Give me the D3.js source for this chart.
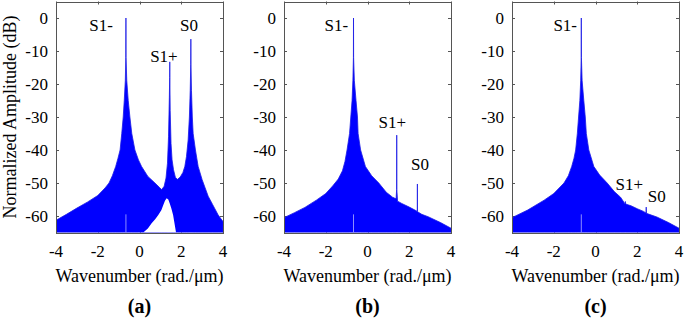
<!DOCTYPE html>
<html>
<head>
<meta charset="utf-8">
<script src="https://cdn.jsdelivr.net/npm/d3@7"></script>
<style>
  html, body { margin: 0; padding: 0; background: #fff; }
  svg { display: block; font-family: "Liberation Serif", "Times New Roman", serif; }
</style>
</head>
<body>
<div id="chart"></div>
<script>
// Three spectra (a)(b)(c): normalized amplitude vs wavenumber.
const xTicks = [-4, -2, 0, 2, 4];
const yTicks = [0, -10, -20, -30, -40, -50, -60];
const panelTags = ['(a)', '(b)', '(c)'];
const labelNames = ['S1-', 'S1+', 'S0'];

// upper envelope of the spectrum, [wavenumber, dB]
const spectrumA = [[-4,-61.3],[-3.5,-59.5],[-3.0,-57.6],[-2.5,-55.8],[-2.0,-53.8],[-1.65,-51.5],[-1.46,-50],[-1.3,-47.8],
  [-1.14,-45],[-1.03,-42.5],[-0.93,-40],[-0.85,-35],[-0.78,-30],[-0.73,-25],[-0.68,-19],[-0.655,-12],[-0.65,0],
  [-0.645,-12],[-0.61,-19],[-0.54,-25],[-0.46,-30],[-0.37,-35],[-0.22,-40],[-0.05,-43],[0.1,-45],[0.4,-48],[0.74,-50],
  [0.95,-51.3],[1.06,-52],[1.18,-51],[1.27,-48.5],[1.34,-44],[1.39,-36],[1.43,-24],[1.445,-18],[1.45,-13.3],[1.455,-18],
  [1.47,-28],[1.51,-38],[1.56,-43],[1.63,-46],[1.72,-48.3],[1.82,-48.9],[1.95,-48.2],[2.08,-46.8],[2.17,-45],[2.25,-42],
  [2.33,-37],[2.39,-30],[2.43,-22],[2.455,-14],[2.46,-6.4],[2.465,-14],[2.49,-22],[2.53,-30],[2.57,-35],[2.68,-40],
  [2.81,-45],[3.0,-49],[3.29,-54],[3.5,-56.5],[3.77,-59.7],[4,-61.7]];
// the empty notch under S1+ in (a): lower envelope
const holeA = [[0.18,-65],[0.4,-63.8],[0.58,-62.2],[0.75,-61],[0.9,-59.7],[1.05,-58.2],[1.14,-56.7],[1.22,-55.4],
  [1.3,-54.6],[1.38,-55],[1.45,-56.2],[1.53,-57.8],[1.61,-59.7],[1.67,-62],[1.75,-65]];

const spectrumB = [[-4,-60.5],[-3.5,-59],[-3.0,-57.4],[-2.45,-55.2],[-2.0,-53.2],[-1.67,-50.9],[-1.4,-48.8],[-1.2,-46.3],
  [-1.08,-43.5],[-0.98,-40],[-0.86,-35],[-0.8,-30],[-0.74,-25],[-0.7,-19],[-0.675,-12],[-0.67,0],[-0.665,-12],
  [-0.63,-19],[-0.55,-25],[-0.48,-30],[-0.45,-35],[-0.33,-40],[-0.1,-45],[0.2,-47.8],[0.54,-50],[0.9,-52.8],
  [1.2,-54.3],[1.37,-54.8],[1.395,-52],[1.40,-35.5],[1.405,-52],[1.44,-55.5],[1.64,-56.2],[2.0,-57.3],[2.27,-58.2],
  [2.385,-58.6],[2.39,-50.3],[2.395,-58.7],[2.6,-59.5],[2.9,-60.2],[3.5,-62],[4,-63.7]];

const spectrumC = [[-4,-60.5],[-3.25,-58.2],[-2.46,-55.2],[-2.0,-53.2],[-1.51,-50],[-1.3,-47.8],[-1.14,-45],[-1.03,-42.5],
  [-0.95,-40],[-0.87,-35],[-0.81,-30],[-0.75,-25],[-0.71,-19],[-0.685,-12],[-0.68,0],[-0.675,-12],[-0.64,-19],
  [-0.56,-25],[-0.49,-30],[-0.44,-35],[-0.32,-40],[-0.08,-45],[0.2,-47.6],[0.56,-50],[0.9,-52.6],[1.2,-54.3],
  [1.41,-56.3],[1.43,-55.6],[1.45,-56.4],[1.7,-56.9],[2.0,-57.8],[2.3,-58.6],[2.42,-59.1],[2.43,-57.3],[2.44,-59.2],
  [2.94,-60.3],[3.5,-62],[4,-63.7]];

// peak label anchors [wavenumber, dB]
const labelPosA = [[-1.84,-3.9],[1.17,-13.3],[2.37,-3.9]];
const labelPosB = [[-1.49,-3.9],[1.19,-33.3],[2.52,-46]];
const labelPosC = [[-1.45,-3.9],[1.62,-52.1],[2.93,-55.8]];

// S1- position (light gap line at the floor)
const mainPeak = [-0.65, -0.67, -0.68];

const panels = [
  {tag: panelTags[0], spectrum: spectrumA, hole: holeA, labels: labelPosA, peak: mainPeak[0], left: 56},
  {tag: panelTags[1], spectrum: spectrumB, hole: null, labels: labelPosB, peak: mainPeak[1], left: 284},
  {tag: panelTags[2], spectrum: spectrumC, hole: null, labels: labelPosC, peak: mainPeak[2], left: 512}
];

const width = 685, height = 318;
const plotW = 167;
const blue = '#0000ff';

const svg = d3.select('#chart').append('svg').attr('width', width).attr('height', height);

const y = d3.scaleLinear().domain([-65, 5]).range([232.5, 1.5]);

panels.forEach((p, i) => {
  const x = d3.scaleLinear().domain([-4, 4]).range([p.left, p.left + plotW]);
  const g = svg.append('g');
  const clipId = 'clip' + i;
  g.append('clipPath').attr('id', clipId).append('rect')
    .attr('x', x(-4)).attr('y', y(5)).attr('width', plotW).attr('height', y(-65) - y(5));

  // inward ticks on all four sides
  const tickLen = 3;
  const ticks = g.append('g').attr('stroke', '#555').attr('stroke-width', 1);
  xTicks.forEach(t => {
    const px = Math.round(x(t)) + 0.5;
    ticks.append('line').attr('x1', px).attr('x2', px).attr('y1', y(-65)).attr('y2', y(-65) - tickLen);
    ticks.append('line').attr('x1', px).attr('x2', px).attr('y1', y(5)).attr('y2', y(5) + tickLen);
  });
  yTicks.forEach(t => {
    const py = Math.round(y(t)) + 0.5;
    ticks.append('line').attr('x1', x(-4)).attr('x2', x(-4) + tickLen).attr('y1', py).attr('y2', py);
    ticks.append('line').attr('x1', x(4)).attr('x2', x(4) - tickLen).attr('y1', py).attr('y2', py);
  });

  const plot = g.append('g').attr('clip-path', `url(#${clipId})`);

  const area = d3.area()
    .x(d => x(d[0]))
    .y0(y(-65))
    .y1(d => y(d[1]));

  plot.append('path')
    .datum(p.spectrum)
    .attr('d', area)
    .attr('fill', blue)
    .attr('stroke', '#1a1ae6')
    .attr('stroke-width', 0.8)
    .attr('stroke-linejoin', 'round');

  if (p.hole) {
    plot.append('path')
      .datum(p.hole)
      .attr('d', area)
      .attr('fill', '#fff');
  }

  plot.append('line')
    .attr('x1', x(p.peak)).attr('x2', x(p.peak))
    .attr('y1', y(-59.5)).attr('y2', y(-65))
    .attr('stroke', '#8c8cff').attr('stroke-width', 1);

  // box
  g.append('rect')
    .attr('x', Math.round(x(-4)) + 0.5).attr('y', Math.round(y(5)) + 0.5)
    .attr('width', plotW).attr('height', Math.round(y(-65) - y(5)))
    .attr('fill', 'none').attr('stroke', '#555').attr('stroke-width', 1);

  // tick labels
  g.selectAll('text.xt').data(xTicks).join('text')
    .attr('class', 'xt')
    .attr('x', d => x(d)).attr('y', 256.5)
    .attr('text-anchor', 'middle')
    .style('font-size', '17px')
    .text(d => d);

  g.selectAll('text.yt').data(yTicks).join('text')
    .attr('class', 'yt')
    .attr('x', x(-4) - 8).attr('y', d => y(d))
    .attr('dy', '0.34em')
    .attr('text-anchor', 'end')
    .style('font-size', '17px')
    .text(d => d);

  // peak names
  g.selectAll('text.pk').data(p.labels).join('text')
    .attr('class', 'pk')
    .attr('x', d => x(d[0])).attr('y', d => y(d[1]))
    .attr('text-anchor', 'middle')
    .style('font-size', '17px')
    .text((d, j) => labelNames[j]);

  g.append('text')
    .attr('x', x(0)).attr('y', 281.5)
    .attr('text-anchor', 'middle')
    .style('font-size', '18px')
    .text('Wavenumber (rad./\u03bcm)');

  g.append('text')
    .attr('x', x(0)).attr('y', 312.5)
    .attr('text-anchor', 'middle')
    .style('font-size', '20px')
    .style('font-weight', 'bold')
    .text(p.tag);
});

svg.append('text')
  .attr('transform', `translate(15.5,${(y(5) + y(-65)) / 2}) rotate(-90)`)
  .attr('text-anchor', 'middle')
  .style('font-size', '18px')
  .text('Normalized Amplitude (dB)');
</script>
</body>
</html>
